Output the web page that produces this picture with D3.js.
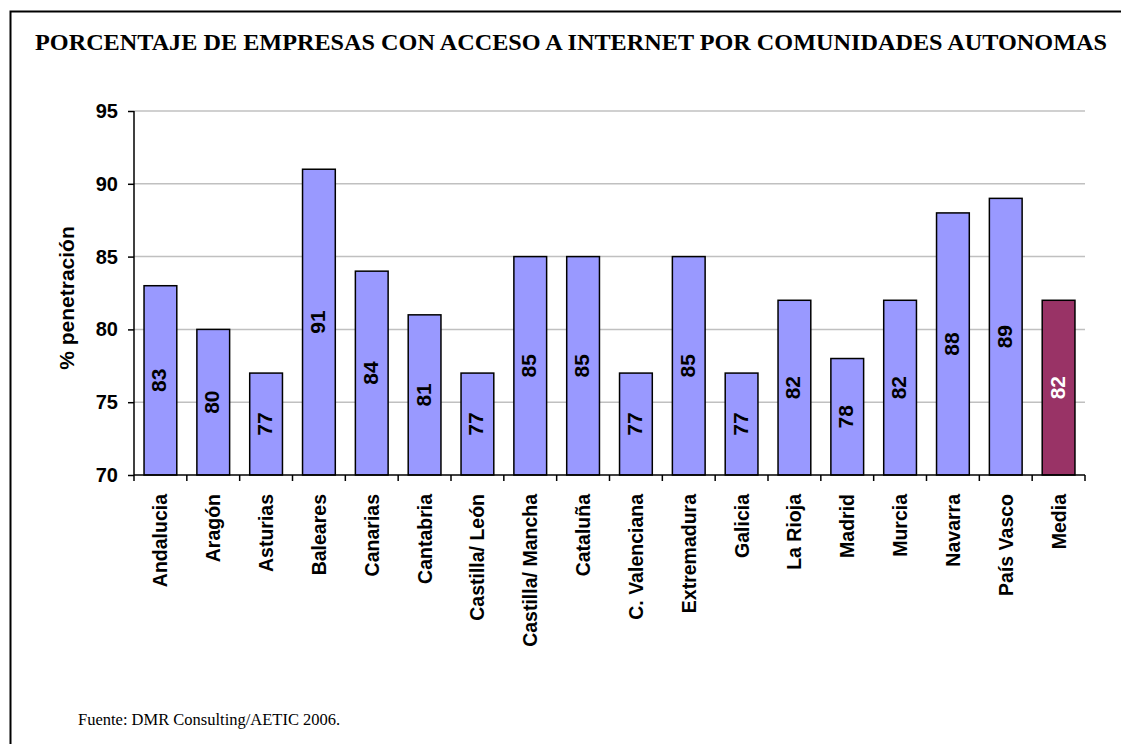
<!DOCTYPE html>
<html>
<head>
<meta charset="utf-8">
<script src="https://cdn.jsdelivr.net/npm/d3@7"></script>
<style>
  body { margin: 0; background: #fff; }
  svg text { font-family: "Liberation Sans", Arial, sans-serif; }
</style>
</head>
<body>
<div id="chart"></div>
<script>
// Data
const regions = ["Andalucia", "Aragón", "Asturias", "Baleares", "Canarias", "Cantabria",
    "Castilla/ León", "Castilla/ Mancha", "Cataluña", "C. Valenciana", "Extremadura", "Galicia",
    "La Rioja", "Madrid", "Murcia", "Navarra", "País Vasco", "Media"]
const penetration = [83, 80, 77, 91, 84, 81, 77, 85, 85, 77, 85, 77, 82, 78, 82, 88, 89, 82]
const yTicks = [70, 75, 80, 85, 90, 95]

const W = 1121, H = 744
const plot = {left: 134, right: 1085, top: 111, bottom: 475}

const svg = d3.select("#chart")
    .append("svg")
    .attr("width", W)
    .attr("height", H)

// outer frame (only top and left visible in the picture)
svg.append("path")
    .attr("d", `M10.5,${H} V11.5 H${W}`)
    .attr("fill", "none")
    .attr("stroke", "#000")
    .attr("stroke-width", 2)

svg.append("text")
    .attr("x", 35)
    .attr("y", 50)
    .style("font-family", "'Liberation Serif', 'Times New Roman', serif")
    .style("font-weight", "bold")
    .style("font-size", "24px")
    .attr("textLength", 1072)
    .attr("lengthAdjust", "spacingAndGlyphs")
    .text("PORCENTAJE DE EMPRESAS CON ACCESO A INTERNET POR COMUNIDADES AUTONOMAS")

const x = d3.scaleBand()
    .domain(regions)
    .range([plot.left, plot.right])
    .paddingInner(0.38)
    .paddingOuter(0.19)

const y = d3.scaleLinear()
    .domain([70, 95])
    .range([plot.bottom, plot.top])

// gridlines
svg.append("g")
    .selectAll("line")
    .data(yTicks.filter(d => d > 70))
    .join("line")
    .attr("x1", plot.left)
    .attr("x2", plot.right)
    .attr("y1", d => y(d))
    .attr("y2", d => y(d))
    .attr("stroke", "#c0c0c0")
    .attr("stroke-width", 1.5)

// bars
svg.append("g")
    .selectAll("rect")
    .data(penetration)
    .join("rect")
    .attr("x", (d, i) => x(regions[i]))
    .attr("y", d => y(d))
    .attr("width", x.bandwidth())
    .attr("height", d => y(70) - y(d))
    .attr("fill", (d, i) => regions[i] === "Media" ? "#993366" : "#9999ff")
    .attr("stroke", "#000")
    .attr("stroke-width", 1.5)

// value labels, rotated, in the middle of each bar
svg.append("g")
    .selectAll("text")
    .data(penetration)
    .join("text")
    .attr("transform", (d, i) => `translate(${x(regions[i]) + x.bandwidth() / 2 + 6},${(y(d) + y(70)) / 2}) rotate(-90)`)
    .attr("text-anchor", "middle")
    .style("font-size", "21px")
    .style("font-weight", "bold")
    .attr("fill", (d, i) => regions[i] === "Media" ? "#fff" : "#000")
    .text(d => d)

// y axis
const yAxis = svg.append("g")
    .attr("transform", `translate(${plot.left},0)`)
    .call(d3.axisLeft(y).tickValues(yTicks).tickSize(6).tickPadding(10))
yAxis.selectAll("path, line").attr("stroke", "#000").attr("stroke-width", 1.5)
yAxis.select(".domain").attr("d", `M0,${plot.top}V${plot.bottom}`)
yAxis.selectAll("text")
    .style("font-family", "'Liberation Sans', Arial, sans-serif")
    .style("font-size", "20px")
    .style("font-weight", "bold")
    .attr("fill", "#000")

// x axis: line plus ticks at category boundaries
const xAxis = svg.append("g")
xAxis.append("line")
    .attr("x1", plot.left).attr("x2", plot.right)
    .attr("y1", plot.bottom).attr("y2", plot.bottom)
    .attr("stroke", "#000").attr("stroke-width", 1.5)
xAxis.selectAll(".tk")
    .data(d3.range(regions.length + 1))
    .join("line")
    .attr("class", "tk")
    .attr("x1", i => plot.left + i * (plot.right - plot.left) / regions.length)
    .attr("x2", i => plot.left + i * (plot.right - plot.left) / regions.length)
    .attr("y1", plot.bottom)
    .attr("y2", plot.bottom + 6)
    .attr("stroke", "#000").attr("stroke-width", 1.5)
xAxis.selectAll("text")
    .data(regions)
    .join("text")
    .attr("transform", d => `translate(${x(d) + x.bandwidth() / 2 + 7},${plot.bottom + 19}) rotate(-90)`)
    .attr("text-anchor", "end")
    .style("font-size", "19.5px")
    .style("font-weight", "bold")
    .text(d => d)

// y axis title
svg.append("text")
    .attr("transform", `translate(74,298) rotate(-90)`)
    .attr("text-anchor", "middle")
    .style("font-size", "21px")
    .style("font-weight", "bold")
    .text("% penetración")

svg.append("text")
    .attr("x", 78)
    .attr("y", 725)
    .style("font-family", "'Liberation Serif', 'Times New Roman', serif")
    .style("font-size", "16.5px")
    .text("Fuente: DMR Consulting/AETIC 2006.")
</script>
</body>
</html>
